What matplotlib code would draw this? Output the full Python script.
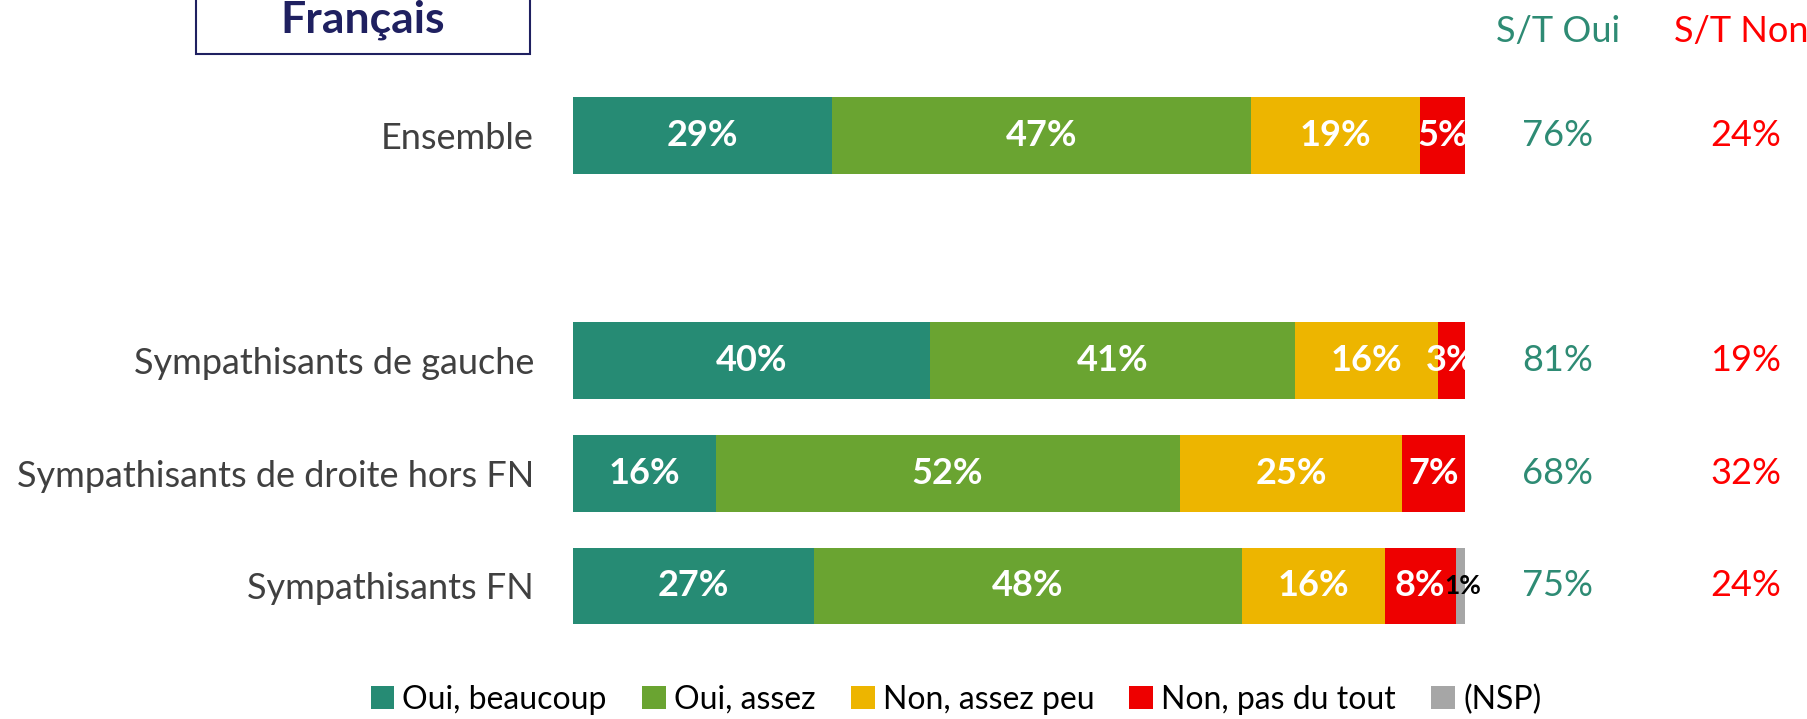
import matplotlib.pyplot as plt
from matplotlib.patches import Patch, Rectangle

plt.rcParams['font.family'] = ['Lato', 'DejaVu Sans']

# data
categories = ["Ensemble", "", "Sympathisants de gauche",
              "Sympathisants de droite hors FN", "Sympathisants FN"]
series_names = ["Oui, beaucoup", "Oui, assez", "Non, assez peu",
                "Non, pas du tout", "(NSP)"]
oui_beaucoup = [29, 0, 40, 16, 27]
oui_assez = [47, 0, 41, 52, 48]
non_assez_peu = [19, 0, 16, 25, 16]
non_pas_du_tout = [5, 0, 3, 7, 8]
nsp = [0, 0, 0, 0, 1]
st_oui = ["76%", "", "81%", "68%", "75%"]
st_non = ["24%", "", "19%", "32%", "24%"]

colors = ["#268B74", "#6AA431", "#EDB500", "#EE0000", "#A6A6A6"]
teal_txt = "#2E8B74"
red_txt = "#FF0000"

fig = plt.figure(figsize=(18.07, 7.19), dpi=100)
ax = fig.add_axes([0.3171, 0.1067, 0.4936, 0.7832])

series = [oui_beaucoup, oui_assez, non_assez_peu, non_pas_du_tout, nsp]
ypos = list(range(len(categories)))
left = [0] * len(categories)
for k, vals in enumerate(series):
    for i, v in enumerate(vals):
        if v == 0:
            continue
        ax.barh(ypos[i], v, left=left[i], height=0.68, color=colors[k],
                edgecolor='none')
        cx = left[i] + v / 2
        if k == 4:
            ax.text(cx + 0.3, ypos[i], f"{v}%", ha='center', va='center',
                    fontsize=19, fontweight='bold', color='black', clip_on=False)
        else:
            ax.text(cx, ypos[i], f"{v}%", ha='center', va='center',
                    fontsize=26, fontweight='bold', color='white', clip_on=True)
        left[i] += v

ax.set_xlim(0, 100)
ax.set_ylim(4.5, -0.5)
ax.set_yticks(ypos)
ax.set_yticklabels(categories, fontsize=26, color='#404040')
ax.tick_params(axis='y', length=0, pad=28)
ax.set_xticks([])
for s in ax.spines.values():
    s.set_visible(False)

# S/T columns
tr = ax.get_yaxis_transform()
ax.text(1.104, -0.92, "S/T Oui", transform=tr, ha='center', va='center',
        fontsize=26, color=teal_txt, clip_on=False)
ax.text(1.31, -0.92, "S/T Non", transform=tr, ha='center', va='center',
        fontsize=26, color=red_txt, clip_on=False)
for i in ypos:
    ax.text(1.104, i, st_oui[i], transform=tr, ha='center', va='center',
            fontsize=26, color=teal_txt, clip_on=False)
    ax.text(1.315, i, st_non[i], transform=tr, ha='center', va='center',
            fontsize=26, color=red_txt, clip_on=False)

# title box
fig.patches.append(Rectangle((0.1085, 0.9249), 0.1848, 0.1, transform=fig.transFigure,
                             facecolor='white', edgecolor='#1F2060', linewidth=1.5))
fig.text(0.2009, 0.972, "Français", ha='center', va='center', fontsize=32,
         fontweight='bold', color='#1F2060')

handles = [Patch(facecolor=c, edgecolor='none') for c in colors]
fig.legend(handles, series_names, loc='center', bbox_to_anchor=(0.529, 0.027),
           ncol=5, frameon=False, handlelength=0.75, handleheight=0.75,
           handletextpad=0.25, columnspacing=1.1, prop={'size': 23})

fig.savefig("out.png", dpi=100)
